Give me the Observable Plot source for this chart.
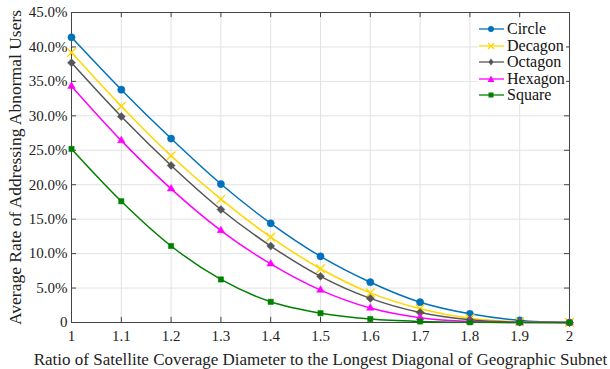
<!DOCTYPE html>
<html><head><meta charset="utf-8">
<script src="https://cdn.jsdelivr.net/npm/d3@7"></script>
<script src="https://cdn.jsdelivr.net/npm/@observablehq/plot@0.6"></script>
<style>
body{margin:0;background:#fff;font-family:"Liberation Serif","Times New Roman",Tinos,Times,"DejaVu Serif",serif;}
#wrap{position:relative;width:610px;height:369px;}
#wrap svg, #wrap svg text{font-family:"Liberation Serif","Times New Roman",Tinos,Times,"DejaVu Serif",serif !important;}
#legend{position:absolute;left:478px;top:18px;width:88px;height:86px;background:#fff;}
.item{position:absolute;left:0;height:16px;display:flex;align-items:center;font-size:16px;color:#111;}
.item svg{margin-right:2px;}
</style></head>
<body><div id="wrap"></div>
<script>
const ratios = [1, 1.1, 1.2, 1.3, 1.4, 1.5, 1.6, 1.7, 1.8, 1.9, 2];
const circle  = [41.4, 33.8, 26.7, 20.1, 14.4, 9.6, 5.85, 2.95, 1.26, 0.3, 0];
const decagon = [39.2, 31.4, 24.2, 17.9, 12.4, 7.8, 4.3, 2.0, 0.6, 0.1, 0];
const octagon = [37.7, 29.9, 22.8, 16.4, 11.1, 6.7, 3.5, 1.45, 0.4, 0.05, 0];
const hexagon = [34.3, 26.4, 19.4, 13.35, 8.5, 4.7, 2.1, 0.7, 0.15, 0, 0];
const square  = [25.2, 17.6, 11.1, 6.25, 3.0, 1.35, 0.5, 0.15, 0.03, 0, 0];
const seriesNames = ["Circle", "Decagon", "Octagon", "Hexagon", "Square"];
const seriesValues = [circle, decagon, octagon, hexagon, square];
const yTicks = [0, 5, 10, 15, 20, 25, 30, 35, 40, 45];
const xTicks = ratios;

const colors = {Circle:"#0072BD", Decagon:"#FFD700", Octagon:"#555555", Hexagon:"#FF00FF", Square:"#008000"};
const symbols = {Circle:"circle", Decagon:"times", Octagon:"diamond2", Hexagon:"triangle2", Square:"square"};

const data = [];
seriesNames.forEach((name, i) => ratios.forEach((r, j) => data.push({name, x: r, y: seriesValues[i][j]})));

const marks = [
  Plot.ruleX(xTicks, {x: d => d, stroke:"#e2e2e2", strokeWidth:1}),
  Plot.ruleY(yTicks, {y: d => d, stroke:"#e2e2e2", strokeWidth:1}),
  Plot.frame({stroke:"#444", strokeWidth:1}),
  Plot.ruleX(xTicks, {x: d => d, y1: 45, y2: 44.25, stroke:"#444"}),
  Plot.ruleX(xTicks, {x: d => d, y1: 0, y2: 0.75, stroke:"#444"}),
  Plot.ruleY(yTicks, {y: d => d, x1: 1, x2: 1.01, stroke:"#444"}),
  Plot.ruleY(yTicks, {y: d => d, x1: 1.99, x2: 2, stroke:"#444"})
];
seriesNames.forEach(name => {
  const d = data.filter(v => v.name === name);
  marks.push(Plot.line(d, {x:"x", y:"y", stroke: colors[name], strokeWidth:1.5, curve:"monotone-x"}));
  const sym = symbols[name];
  const filled = sym !== "times";
  marks.push(Plot.dot(d, {x:"x", y:"y", symbol: sym, r: sym==="times"?4:(sym==="square"?3:3.6),
    fill: filled ? colors[name] : "none", stroke: colors[name], strokeWidth: filled?0.5:1.4}));
});

const chart = Plot.plot({
  width: 610, height: 369,
  marginLeft: 71, marginRight: 41, marginTop: 12, marginBottom: 47,
  style: {fontSize: "15px", color:"#222", background:"#fff"},
  x: {domain:[1,2], ticks: xTicks, tickFormat: d => d===1?"1":d===2?"2":d3.format(".1f")(d), tickSize: 0, tickPadding: 8,
      label: "Ratio of Satellite Coverage Diameter to the Longest Diagonal of Geographic Subnet", labelAnchor:"center", labelOffset: 42, labelArrow: "none"},
  y: {domain:[0,45], ticks: yTicks, tickFormat: d => d===0?"0":d3.format(".1f")(d)+"%", tickSize: 0, tickPadding: 4,
      label: "Average Rate of Addressing Abnormal Users", labelAnchor:"center", labelOffset: 63, labelArrow: "none"},
  marks
});
const wrap = document.getElementById("wrap");
wrap.appendChild(chart);
chart.querySelectorAll('g[aria-label="x-axis label"] text').forEach(t => t.style.fontSize = "17px");
chart.querySelectorAll('g[aria-label="y-axis label"] text').forEach(t => t.style.fontSize = "17.5px");

const legend = document.createElement("div");
legend.id = "legend";
seriesNames.forEach((name, i) => {
  const it = document.createElement("div");
  it.className = "item";
  it.style.top = (3 + i * 16.6) + "px";
  const c = colors[name];
  let m;
  if (name === "Circle") m = `<circle cx="13" cy="8" r="3" fill="${c}"/>`;
  else if (name === "Decagon") m = `<path d="M10 5L16 11M16 5L10 11" stroke="${c}" stroke-width="1.3"/>`;
  else if (name === "Octagon") m = `<path d="M13 4.5L15.5 8L13 11.5L10.5 8Z" fill="${c}"/>`;
  else if (name === "Hexagon") m = `<path d="M13 4.5L16.5 11L9.5 11Z" fill="${c}"/>`;
  else m = `<rect x="10.5" y="5.5" width="5" height="5" fill="${c}"/>`;
  it.innerHTML = `<svg width="27" height="16"><line x1="1" x2="26" y1="8" y2="8" stroke="${c}" stroke-width="1.3"/>${m}</svg><span>${name}</span>`;
  legend.appendChild(it);
});
wrap.appendChild(legend);
</script></body></html>
